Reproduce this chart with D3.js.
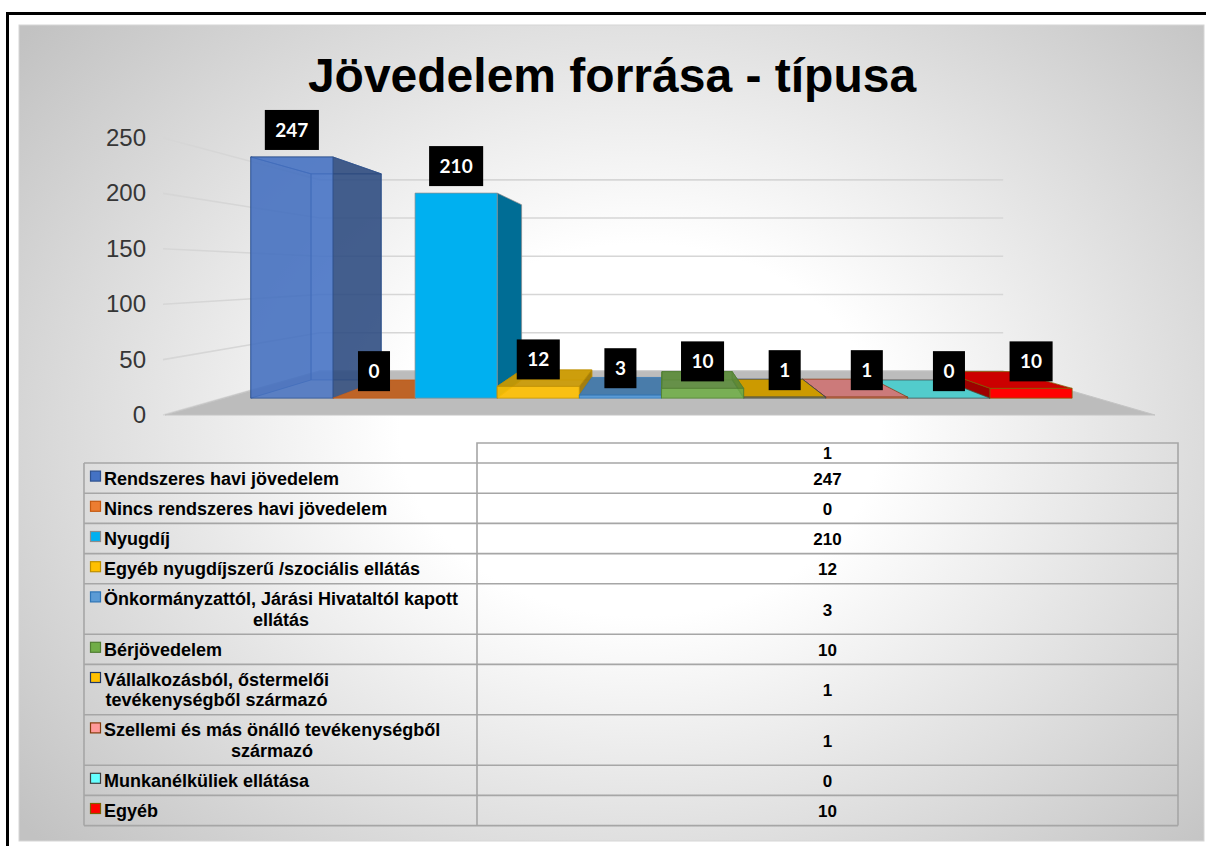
<!DOCTYPE html>
<html><head><meta charset="utf-8">
<script src="https://cdn.jsdelivr.net/npm/d3@7"></script>
<style>html,body{margin:0;padding:0;background:#fff;} svg{display:block}</style>
</head><body>
<svg id="chart" width="1206" height="846"></svg>
<script>
// ---------------- data ----------------
const chartTitle = "Jövedelem forrása - típusa";
const categories = [
  "Rendszeres havi jövedelem",
  "Nincs rendszeres havi jövedelem",
  "Nyugdíj",
  "Egyéb nyugdíjszerű /szociális ellátás",
  "Önkormányzattól, Járási Hivataltól kapott\nellátás",
  "Bérjövedelem",
  "Vállalkozásból, őstermelői\ntevékenységből származó",
  "Szellemi és más önálló tevékenységből\nszármazó",
  "Munkanélküliek ellátása",
  "Egyéb"
];
const values = [247, 0, 210, 12, 3, 10, 1, 1, 0, 10];
const seriesLabel = "1";
const yTicks = [0, 50, 100, 150, 200, 250];

// ---------------- styles ----------------
const barColors   = ["#4472C4","#ED7D31","#00B0F0","#FFC000","#5B9BD5","#70AD47","#FFC000","#FF9999","#66FFFF","#FF0000"];
const edgeColors  = ["#2F528F","#C55A11","#8C8C8C","#BF9000","#2E75B6","#507E32","#203864","#843C0C","#404040","#7F6000"];
const barOpacity  = [0.82,1,1,0.9,1,0.88,1,1,1,1];

const svg = d3.select("#chart");
const defs = svg.append("defs");
const grad = defs.append("radialGradient").attr("id","bg")
  .attr("gradientUnits","userSpaceOnUse")
  .attr("cx",640).attr("cy",430).attr("r",800)
  .attr("gradientTransform","translate(640,430) scale(1,0.775) translate(-640,-430)");
grad.append("stop").attr("offset",0).attr("stop-color","#ffffff");
grad.append("stop").attr("offset",0.3).attr("stop-color","#ffffff");
grad.append("stop").attr("offset",1).attr("stop-color","#c2c2c2");

// frame
svg.append("rect").attr("x",19).attr("y",25).attr("width",1185).attr("height",816)
  .attr("fill","url(#bg)").attr("stroke","#d6d6d6").attr("stroke-width",1);
svg.append("line").attr("x1",7.5).attr("x2",7.5).attr("y1",12).attr("y2",846)
  .attr("stroke","#000").attr("stroke-width",3);
svg.append("line").attr("x1",6).attr("x2",1206).attr("y1",13.5).attr("y2",13.5)
  .attr("stroke","#000").attr("stroke-width",3);

// title
svg.append("text").attr("x",612).attr("y",92).attr("text-anchor","middle")
  .attr("font-family","'Liberation Sans', Arial, sans-serif").attr("font-weight","bold")
  .attr("font-size",48).attr("fill","#000").text(chartTitle);

// ---------------- 3D projection ----------------
const VX = 665, VY = 273, C = 0.449;
const floorX0 = 165, floorX1 = 1155;
const Z0 = 0.30, Z1 = 0.73;
const yWorld = d3.scaleLinear().domain([0,250]).range([415, 415 - 277]);
const xBand = d3.scaleBand().domain(categories).range([195,1127]).padding(0);
function P(X, Y, Z){ const k = 1/(1+C*Z); return [VX + k*(X-VX), VY + k*(Y-VY)]; }
const poly = pts => pts.map(p => p.join(",")).join(" ");

const plot = svg.append("g");

// gridlines: left wall + back wall
yTicks.forEach(t => {
  const Y = yWorld(t);
  const a = P(163, Y, 0), b = P(floorX0, Y, 1), c = P(floorX1, Y, 1);
  plot.append("polyline").attr("points", poly([a,b,c]))
    .attr("fill","none").attr("stroke","#d6d6d6").attr("stroke-width",1.6);
});

// axis labels
plot.selectAll("text.ytick").data(yTicks).join("text").attr("class","ytick")
  .attr("x",146).attr("y", d => P(165, yWorld(d), 0)[1] + 8)
  .attr("text-anchor","end").attr("font-family","'Liberation Sans', Arial, sans-serif")
  .attr("font-size",24).attr("fill","#363636").text(d => d);

// floor
plot.append("polygon").attr("points", poly([
  P(floorX0, yWorld(0), 0), P(floorX1, yWorld(0), 0), P(floorX1, yWorld(0), 1), P(floorX0, yWorld(0), 1)
])).attr("fill","#bcbcbc").attr("stroke","#c4c4c4").attr("stroke-width",1);

// bars
const shade = (col, f) => { const c = d3.rgb(col); return d3.rgb(c.r*f, c.g*f, c.b*f).formatHex(); };
const order = d3.range(categories.length).sort((a,b) => {
  const ca = xBand(categories[a]) + xBand.bandwidth()/2, cb = xBand(categories[b]) + xBand.bandwidth()/2;
  return Math.abs(cb - VX) - Math.abs(ca - VX);
});
const barG = plot.append("g");
order.forEach(i => {
  const X0 = xBand(categories[i]), X1 = X0 + xBand.bandwidth();
  const Yb = yWorld(0), Yt = yWorld(values[i]);
  const base = barColors[i], edge = edgeColors[i], op = barOpacity[i];
  const faces = {
    front: {pts:[P(X0,Yb,Z0),P(X1,Yb,Z0),P(X1,Yt,Z0),P(X0,Yt,Z0)], col: base},
    back:  {pts:[P(X0,Yb,Z1),P(X1,Yb,Z1),P(X1,Yt,Z1),P(X0,Yt,Z1)], col: base},
    left:  {pts:[P(X0,Yb,Z0),P(X0,Yb,Z1),P(X0,Yt,Z1),P(X0,Yt,Z0)], col: shade(base,0.62)},
    right: {pts:[P(X1,Yb,Z0),P(X1,Yb,Z1),P(X1,Yt,Z1),P(X1,Yt,Z0)], col: shade(base,0.62)},
    top:   {pts:[P(X0,Yt,Z0),P(X1,Yt,Z0),P(X1,Yt,Z1),P(X0,Yt,Z1)], col: shade(base,0.8)}
  };
  const vis = ["front"];
  if (X0 > VX) vis.unshift("left");
  if (X1 < VX) vis.unshift("right");
  if (Yt > VY) vis.unshift("top");
  const hidden = ["back","left","right","top"].filter(f => !vis.includes(f));
  const g = barG.append("g");
  const draw = (f, o) => g.append("polygon").attr("points", poly(faces[f].pts))
      .attr("fill", faces[f].col).attr("fill-opacity", o)
      .attr("stroke", edge).attr("stroke-opacity", 0.7).attr("stroke-width", 1).attr("stroke-linejoin","round");
  if (op < 1) hidden.forEach(f => draw(f, 0.35));
  vis.forEach(f => { if (f === "front" && values[i] === 0) return; draw(f, op); });
});

// data labels
const labG = plot.append("g");
categories.forEach((cat, i) => {
  const X0 = xBand(cat), Xm = X0 + xBand.bandwidth()/2;
  const p = P(Xm, yWorld(values[i]), Z0);
  const cy = p[1] - 27;
  const t = labG.append("text").attr("x", p[0]).attr("y", cy + 7)
    .attr("text-anchor","middle").attr("font-family","Lato, 'Open Sans', sans-serif")
    .attr("font-weight","bold").attr("font-size",19).attr("fill","#fff").text(values[i]);
  const w = t.node().getComputedTextLength() + 21;
  labG.insert("rect", () => t.node()).attr("x", p[0] - w/2).attr("y", cy - 20)
    .attr("width", w).attr("height", 40).attr("fill","#000");
});

// ---------------- data table ----------------
const tL = 84, tM = 477, tR = 1178, tHead = 443, tTop = 463;
const lineGap = 20.2, rowBase = 30.2;
const lines = categories.map(c => c.split("\n"));
const rowTops = [];
let yy = tTop;
lines.forEach(l => { rowTops.push(yy); yy += rowBase + lineGap*(l.length-1); });
const tBottom = yy;
const tg = svg.append("g").attr("font-family","'Liberation Sans', Arial, sans-serif")
  .attr("font-weight","bold").attr("font-size",18).attr("fill","#000");
const gridCol = "#a6a6a6";
// header cell
tg.append("polyline").attr("points", poly([[tM,tTop],[tM,tHead],[tR,tHead],[tR,tTop]]))
  .attr("fill","none").attr("stroke",gridCol).attr("stroke-width",1.6);
tg.append("text").attr("x",(tM+tR)/2).attr("y",tHead+16).attr("text-anchor","middle")
  .attr("font-size",16).text(seriesLabel);
// row lines
[...rowTops, tBottom].forEach(y => tg.append("line").attr("x1",tL).attr("x2",tR).attr("y1",y).attr("y2",y)
  .attr("stroke",gridCol).attr("stroke-width",1.6));
[tL, tM, tR].forEach(x => tg.append("line").attr("x1",x).attr("x2",x).attr("y1",tTop).attr("y2",tBottom)
  .attr("stroke",gridCol).attr("stroke-width",1.6));
// rows
lines.forEach((l, i) => {
  const top = rowTops[i], h = rowBase + lineGap*(l.length-1), mid = top + h/2;
  const firstBase = mid - (l.length-1)*lineGap/2 + 6.5;
  tg.append("rect").attr("x",90.5).attr("y",firstBase-13.5).attr("width",10).attr("height",10)
    .attr("fill",barColors[i]).attr("stroke",edgeColors[i]).attr("stroke-width",1.2);
  const texts = l.map((s, j) => tg.append("text").attr("y", firstBase + j*lineGap).text(s));
  const ws = texts.map(t => t.node().getComputedTextLength());
  const bw = d3.max(ws);
  texts.forEach(t => t.attr("x", 104 + bw/2).attr("text-anchor","middle"));
  tg.append("text").attr("x",(tM+tR)/2).attr("y", mid + 6.5).attr("text-anchor","middle")
    .attr("font-size",17).text(values[i]);
});
</script>
</body></html>
